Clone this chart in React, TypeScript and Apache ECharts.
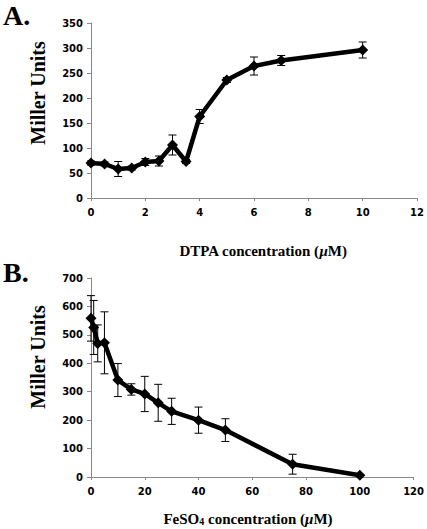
import React, { useEffect, useRef } from "react";
import * as echarts from "echarts";

// Panel A: DTPA
const dtpaX = [0, 0.5, 1, 1.5, 2, 2.5, 3, 3.5, 4, 5, 6, 7, 10];
const dtpaY = [70, 68, 58, 60, 72, 74, 106, 73, 163, 236, 264, 275, 296];
const dtpaErr = [4, 4, 15, 4, 7, 10, 20, 4, 14, 5, 18, 10, 16];

// Panel B: FeSO4
const feX = [0, 1, 2.5, 5, 10, 15, 20, 25, 30, 40, 50, 75, 100];
const feY = [558, 526, 470, 472, 341, 308, 292, 261, 231, 200, 165, 45, 6];
const feErr = [80, 95, 65, 109, 58, 20, 62, 65, 46, 46, 40, 35, 0];

const SERIF = "Liberation Serif";
const SANS = "DejaVu Sans";

function errRender(params: any, api: any) {
  const x = api.value(0);
  const lo = api.value(1);
  const hi = api.value(2);
  const pTop = api.coord([x, hi]);
  const pBot = api.coord([x, lo]);
  const w = 4;
  const st = { stroke: "#000", lineWidth: 1 };
  return {
    type: "group",
    children: [
      { type: "line", shape: { x1: pTop[0], y1: pTop[1], x2: pBot[0], y2: pBot[1] }, style: st },
      { type: "line", shape: { x1: pTop[0] - w, y1: pTop[1], x2: pTop[0] + w, y2: pTop[1] }, style: st },
      { type: "line", shape: { x1: pBot[0] - w, y1: pBot[1], x2: pBot[0] + w, y2: pBot[1] }, style: st },
    ],
  };
}

export default function App() {
  const ref = useRef<HTMLDivElement>(null);
  useEffect(() => {
    document.body.style.margin = "0";
    const chart = echarts.init(ref.current!, null, { renderer: "svg" });
    const axisLine = { show: true, lineStyle: { color: "#888", width: 1 } };
    const axisLabel = { color: "#000", fontFamily: SANS, fontWeight: "bold" as const, fontSize: 10 };
    const xCommon = (min: number, max: number, interval: number, gi: number) => ({
      type: "value",
      gridIndex: gi,
      min,
      max,
      interval,
      axisLine,
      axisTick: { show: true, length: 3, lineStyle: { color: "#888" } },
      splitLine: { show: false },
      axisLabel: { ...axisLabel, margin: 9 },
    });
    const yCommon = (min: number, max: number, interval: number, gi: number) => ({
      type: "value",
      gridIndex: gi,
      min,
      max,
      interval,
      axisLine,
      axisTick: { show: true, length: 4, lineStyle: { color: "#888" } },
      splitLine: { show: false },
      axisLabel: { ...axisLabel, margin: 8 },
    });
    const txt = (text: string, size: number, extra: any = {}) => ({
      text,
      fontFamily: SERIF,
      fontWeight: "bold",
      fontSize: size,
      fill: "#000",
      ...extra,
    });
    const mu = { fontSize: 15, fontWeight: "bold", fontStyle: "italic", fontFamily: SERIF, fill: "#000" };
    chart.setOption({
      animation: false,
      grid: [
        { left: 91, top: 23, width: 326, height: 175 },
        { left: 91, top: 278, width: 326, height: 199 },
      ],
      xAxis: [xCommon(0, 12, 2, 0), xCommon(0, 120, 20, 1)],
      yAxis: [yCommon(0, 350, 50, 0), yCommon(0, 700, 100, 1)],
      series: [
        {
          type: "custom",
          xAxisIndex: 0,
          yAxisIndex: 0,
          renderItem: errRender,
          data: dtpaX.map((x, i) => [x, dtpaY[i] - dtpaErr[i], dtpaY[i] + dtpaErr[i]]),
          z: 1,
        },
        {
          type: "line",
          xAxisIndex: 0,
          yAxisIndex: 0,
          data: dtpaX.map((x, i) => [x, dtpaY[i]]),
          symbol: "diamond",
          symbolSize: 11,
          lineStyle: { color: "#000", width: 4.5 },
          itemStyle: { color: "#000" },
          z: 2,
        },
        {
          type: "custom",
          xAxisIndex: 1,
          yAxisIndex: 1,
          renderItem: errRender,
          data: feX.map((x, i) => [x, feY[i] - feErr[i], feY[i] + feErr[i]]),
          z: 1,
        },
        {
          type: "line",
          xAxisIndex: 1,
          yAxisIndex: 1,
          data: feX.map((x, i) => [x, feY[i]]),
          symbol: "diamond",
          symbolSize: 11,
          lineStyle: { color: "#000", width: 4.5 },
          itemStyle: { color: "#000" },
          z: 2,
        },
      ],
      graphic: [
        { type: "text", x: 3, y: 15, style: txt("A.", 28, { verticalAlign: "middle" }) },
        { type: "text", x: 3, y: 272, style: txt("B.", 28, { verticalAlign: "middle" }) },
        {
          type: "text",
          x: 38,
          y: 93,
          rotation: Math.PI / 2,
          style: txt("Miller Units", 20, { align: "center", verticalAlign: "middle" }),
        },
        {
          type: "text",
          x: 38,
          y: 357,
          rotation: Math.PI / 2,
          style: txt("Miller Units", 20, { align: "center", verticalAlign: "middle" }),
        },
        {
          type: "text",
          x: 263,
          y: 251,
          style: txt("DTPA concentration ({m|μ}M)", 15, { align: "center", verticalAlign: "middle", rich: { m: mu } }),
        },
        {
          type: "text",
          x: 248,
          y: 519,
          style: txt("FeSO{s|4} concentration ({m|μ}M)", 15, {
            align: "center",
            verticalAlign: "middle",
            rich: {
              m: mu,
              s: { fontSize: 10, fontWeight: "bold", fontFamily: SERIF, fill: "#000", verticalAlign: "bottom", padding: [4, 0, 0, 0] },
            },
          }),
        },
      ],
    });
    return () => chart.dispose();
  }, []);
  return <div ref={ref} style={{ width: 427, height: 529 }} />;
}
